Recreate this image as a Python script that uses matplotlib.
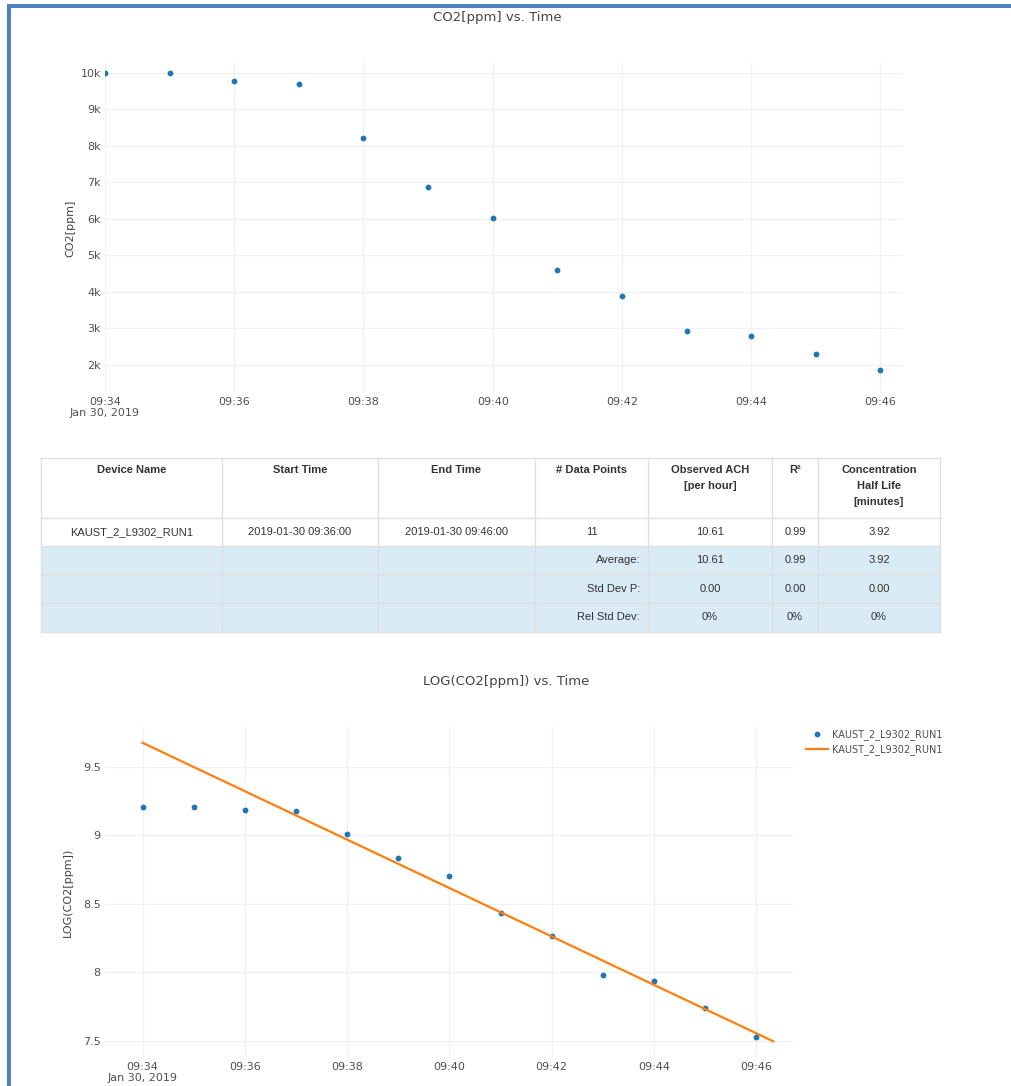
import matplotlib
matplotlib.use('Agg')
import matplotlib.dates as mdates
import matplotlib.pyplot as plt
import numpy as np
from matplotlib.lines import Line2D
from matplotlib.patches import Rectangle
from matplotlib.ticker import FuncFormatter, MultipleLocator

# =============================================================================
# data
# =============================================================================
TIMES = np.array(['2019-01-30T09:%02d:00' % m for m in range(34, 47)],
                 dtype='datetime64[s]')
CO2_PPM = [10000, 10000, 9780, 9700, 8220, 6880, 6030, 4600, 3890, 2930,
           2790, 2300, 1860]
LOG_CO2 = [9.207, 9.207, 9.185, 9.178, 9.012, 8.836, 8.702, 8.432, 8.265,
           7.983, 7.934, 7.742, 7.530]
FIT_TIMES = np.array(['2019-01-30T09:34:00', '2019-01-30T09:46:20'],
                     dtype='datetime64[s]')
FIT_VALUES = [9.675, 7.497]
SERIES_NAME = 'KAUST_2_L9302_RUN1'

HEADER = ['Device Name', 'Start Time', 'End Time', '# Data Points',
          'Observed ACH\n[per hour]', 'R\u00b2',
          'Concentration\nHalf Life\n[minutes]']
ROW_DEVICE = [SERIES_NAME, '2019-01-30 09:36:00', '2019-01-30 09:46:00',
              '11', '10.61', '0.99', '3.92']
STAT_NAMES = ['Average:', 'Std Dev P:', 'Rel Std Dev:']
STAT_VALUES = [['10.61', '0.99', '3.92'],
               ['0.00', '0.00', '0.00'],
               ['0%', '0%', '0%']]

# =============================================================================
# layout (pixels)
# =============================================================================
W, H = 1012, 1086
BLUE = '#1f77b4'
ORANGE = '#ff7f0e'
GRID = '#f1f1f1'
TICK = '#505050'

fig = plt.figure(figsize=(W / 100, H / 100), dpi=100)
fig.patch.set_facecolor('white')


def px_axes(left, top, right, bottom, **kw):
    return fig.add_axes([left / W, 1 - bottom / H,
                         (right - left) / W, (bottom - top) / H], **kw)


def time_fmt(x, pos):
    d = mdates.num2date(x)
    if d.hour == 9 and d.minute == 34:
        return d.strftime('%H:%M') + '\nJan 30, 2019'
    return d.strftime('%H:%M')


def style_axes(ax):
    for s in ax.spines.values():
        s.set_visible(False)
    ax.grid(True, color=GRID, linewidth=0.9)
    ax.set_axisbelow(True)
    ax.tick_params(length=0, labelsize=8, labelcolor=TICK, pad=3)
    ax.xaxis.set_major_locator(mdates.MinuteLocator(byminute=range(0, 60, 2)))
    ax.xaxis.set_major_formatter(FuncFormatter(time_fmt))
    for lbl in ax.get_xticklabels():
        lbl.set_linespacing(1.1)


# overlay for page border and table
page = px_axes(0, 0, W, H, zorder=0)
page.set_xlim(0, W)
page.set_ylim(H, 0)
page.axis('off')
page.add_patch(Rectangle((7, 4), W - 7, 4, color='#4f81bd', lw=0))
page.add_patch(Rectangle((7, 4), 4, H - 4, color='#4f81bd', lw=0))

# =============================================================================
# top chart: CO2 vs time
# =============================================================================
ax1 = px_axes(105, 62, 902, 393)
ax1.plot(TIMES, CO2_PPM, 'o', color=BLUE, markersize=4.2, markeredgewidth=0)
ax1.set_xlim(np.datetime64('2019-01-30T09:34:00'),
             np.datetime64('2019-01-30T09:46:20'))
ax1.set_ylim(1233, 10300)
style_axes(ax1)
ax1.yaxis.set_major_locator(MultipleLocator(1000))
ax1.yaxis.set_major_formatter(FuncFormatter(lambda v, p: '%dk' % round(v / 1000)))
fig.text(497 / W, 1 - 18 / H, 'CO2[ppm] vs. Time', ha='center', va='center',
         fontsize=9.5, color='#444444')
fig.text(70 / W, 1 - 228 / H, 'CO2[ppm]', ha='center', va='center',
         rotation=90, fontsize=8, color='#444444')

# =============================================================================
# table
# =============================================================================
COLS = [41, 222, 378, 535, 648, 772, 818, 940]
ROWS = [458, 518, 546, 574, 603, 632]
for r in range(2, 5):
    page.add_patch(Rectangle((COLS[0], ROWS[r]), COLS[-1] - COLS[0],
                             ROWS[r + 1] - ROWS[r], color='#d9ebf5', lw=0))
for x in COLS:
    page.plot([x, x], [ROWS[0], ROWS[-1]], color='#e0e0e0', lw=1)
for y in ROWS:
    page.plot([COLS[0], COLS[-1]], [y, y], color='#e0e0e0', lw=1)

TFONT = dict(family='Liberation Sans', fontsize=8, color='#333333')
for i, txt in enumerate(HEADER):
    cx = (COLS[i] + COLS[i + 1]) / 2
    page.text(cx, ROWS[0] + 7, txt, ha='center', va='top', fontweight='bold',
              linespacing=1.75, **TFONT)
for i, txt in enumerate(ROW_DEVICE):
    cx = (COLS[i] + COLS[i + 1]) / 2
    page.text(cx, (ROWS[1] + ROWS[2]) / 2, txt, ha='center', va='center',
              **TFONT)
for r, name in enumerate(STAT_NAMES):
    cy = (ROWS[r + 2] + ROWS[r + 3]) / 2
    page.text(COLS[4] - 8, cy, name, ha='right', va='center', **TFONT)
    for j, val in enumerate(STAT_VALUES[r]):
        cx = (COLS[4 + j] + COLS[5 + j]) / 2
        page.text(cx, cy, val, ha='center', va='center', **TFONT)

# =============================================================================
# bottom chart: LOG(CO2) vs time
# =============================================================================
ax2 = px_axes(105, 727, 793, 1058)
ax2.plot(TIMES, LOG_CO2, 'o', color=BLUE, markersize=4.2, markeredgewidth=0)
ax2.plot(FIT_TIMES, FIT_VALUES, '-', color=ORANGE, linewidth=1.6)
ax2.set_xlim(np.datetime64('2019-01-30T09:33:16'),
             np.datetime64('2019-01-30T09:46:43'))
ax2.set_ylim(7.376, 9.79)
style_axes(ax2)
ax2.yaxis.set_major_locator(MultipleLocator(0.5))
ax2.yaxis.set_major_formatter(FuncFormatter(lambda v, p: ('%g' % v)))
fig.text(506 / W, 1 - 682 / H, 'LOG(CO2[ppm]) vs. Time', ha='center',
         va='center', fontsize=9.5, color='#444444')
fig.text(68 / W, 1 - 892 / H, 'LOG(CO2[ppm])', ha='center', va='center',
         rotation=90, fontsize=8, color='#444444')

handles = [
    Line2D([], [], marker='o', ls='none', color=BLUE, markersize=4.2,
           markeredgewidth=0),
    Line2D([], [], ls='-', color=ORANGE, linewidth=1.6),
]
leg = ax2.legend(handles, [SERIES_NAME, SERIES_NAME], loc='upper left',
                 bbox_to_anchor=(806 / W, 1 - 729 / H),
                 bbox_transform=fig.transFigure, frameon=False, fontsize=7,
                 handlelength=2.3, handletextpad=0.4, labelspacing=0.45,
                 borderpad=0, borderaxespad=0)
for t in leg.get_texts():
    t.set_color(TICK)

fig.savefig('out.png', dpi=100)
